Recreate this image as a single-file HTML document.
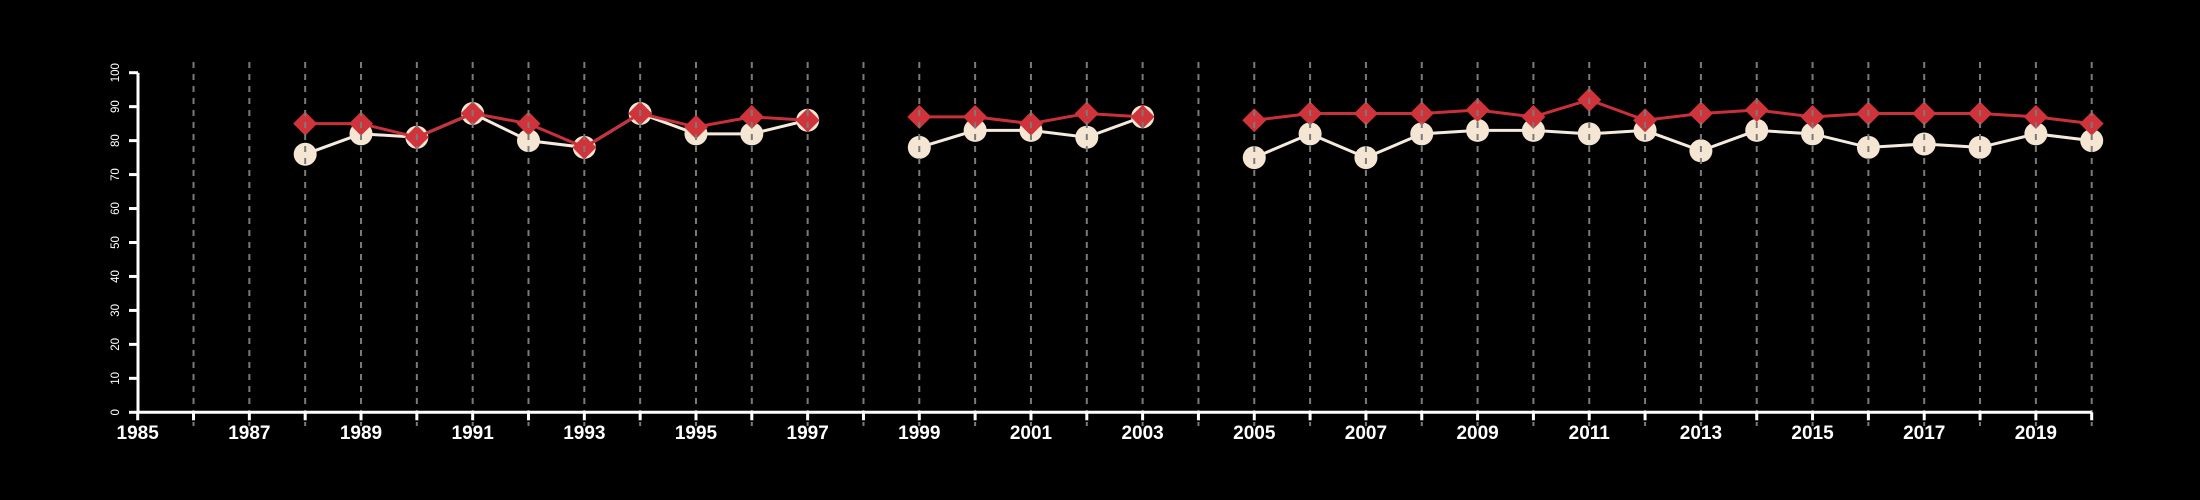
<!DOCTYPE html>
<html><head><meta charset="utf-8"><style>
html,body{margin:0;padding:0;background:#000;}
svg{display:block;}
text{font-family:"Liberation Sans",Arial,sans-serif;fill:#fff;}
</style></head><body>
<svg id="chart" width="2200" height="500" viewBox="0 0 2200 500" xmlns="http://www.w3.org/2000/svg">
<rect width="2200" height="500" fill="#000"/>
<g id="series"></g>
<g id="grid"></g>
<g id="axes"></g>
</svg>
<script>
const years = [1988,1989,1990,1991,1992,1993,1994,1995,1996,1997,1998,1999,2000,2001,2002,2003,2004,2005,2006,2007,2008,2009,2010,2011,2012,2013,2014,2015,2016,2017,2018,2019,2020];
const whiteSeries = [76,82,81,88,80,78,88,82,82,86,null,78,83,83,81,87,null,75,82,75,82,83,83,82,83,77,83,82,78,79,78,82,80];
const redSeries = [85,85,81,88,85,78,88,84,87,86,null,87,87,85,88,87,null,86,88,88,88,89,87,92,86,88,89,87,88,88,88,87,85];
const yTicks = [0,10,20,30,40,50,60,70,80,90,100];
const xLabelYears = [1985,1987,1989,1991,1993,1995,1997,1999,2001,2003,2005,2007,2009,2011,2013,2015,2017,2019];
const xMin = 1985, xMax = 2020, yMin = 0, yMax = 100;

const NS = "http://www.w3.org/2000/svg";
const X0 = 137.7, X1 = 2091.7, Y0 = 412.3, Y1 = 72.7;
function xs(v){ return X0 + (v - xMin) / (xMax - xMin) * (X1 - X0); }
function ys(v){ return Y0 - (v - yMin) / (yMax - yMin) * (Y0 - Y1); }
function mk(tag, attrs, parent){ const e = document.createElementNS(NS, tag); for (const k in attrs) e.setAttribute(k, attrs[k]); parent.appendChild(e); return e; }

const grid = document.getElementById('grid');
const axes = document.getElementById('axes');
const series = document.getElementById('series');

for (let yr = xMin + 1; yr <= xMax; yr++) {
  const g = mk('line', {x1: xs(yr), x2: xs(yr), y1: 62, y2: 426, stroke: '#7a7a7a', 'stroke-width': 2, 'stroke-dasharray': '6 6'}, grid);
  
  
}

const xa = mk('line', {x1: X0, x2: X1, y1: Y0, y2: Y0, stroke: '#fff', 'stroke-width': 3}, axes);


for (let yr = xMin; yr <= xMax; yr++) {
  const t = mk('line', {x1: xs(yr), x2: xs(yr), y1: Y0, y2: Y0 + 8, stroke: '#fff', 'stroke-width': 3}, axes);
  
  
}
xLabelYears.forEach(yr => {
  const t = mk('text', {x: xs(yr), y: 439, 'text-anchor': 'middle', 'font-size': 19, 'font-weight': 'bold'}, axes);
  t.textContent = String(yr);
  
  
});

const ya = mk('line', {x1: 138, x2: 138, y1: Y1, y2: Y0, stroke: '#fff', 'stroke-width': 3}, axes);


yTicks.forEach(v => {
  const t = mk('line', {x1: 129, x2: 138, y1: ys(v), y2: ys(v), stroke: '#fff', 'stroke-width': 3}, axes);
  
  
  const l = mk('text', {x: 0, y: 0, 'text-anchor': 'middle', 'font-size': 11.5, transform: 'translate(119,' + ys(v) + ') rotate(-90)'}, axes);
  l.textContent = String(v);
  
  
});

function segments(vals){
  const segs = []; let cur = [];
  vals.forEach((v, i) => { if (v === null) { if (cur.length) segs.push(cur); cur = []; } else cur.push([xs(years[i]), ys(v)]); });
  if (cur.length) segs.push(cur);
  return segs;
}
segments(whiteSeries).forEach((s, k) => {
  const p = mk('polyline', {points: s.map(q => q.join(',')).join(' '), fill: 'none', stroke: '#f5ebdc', 'stroke-width': 3}, series);
  
  
});
whiteSeries.forEach((v, i) => {
  if (v === null) return;
  const c = mk('circle', {cx: xs(years[i]), cy: ys(v), r: 11.5, fill: '#f5e6d3'}, series);
  
  
});
segments(redSeries).forEach((s, k) => {
  const p = mk('polyline', {points: s.map(q => q.join(',')).join(' '), fill: 'none', stroke: '#c8303a', 'stroke-width': 3}, series);
  
  
});
redSeries.forEach((v, i) => {
  if (v === null) return;
  const cx = xs(years[i]), cy = ys(v), d = 12;
  const p = mk('polygon', {points: [[cx, cy - d], [cx + d, cy], [cx, cy + d], [cx - d, cy]].map(q => q.join(',')).join(' '), fill: '#d0343a'}, series);
  
  
});
</script>
</body></html>
